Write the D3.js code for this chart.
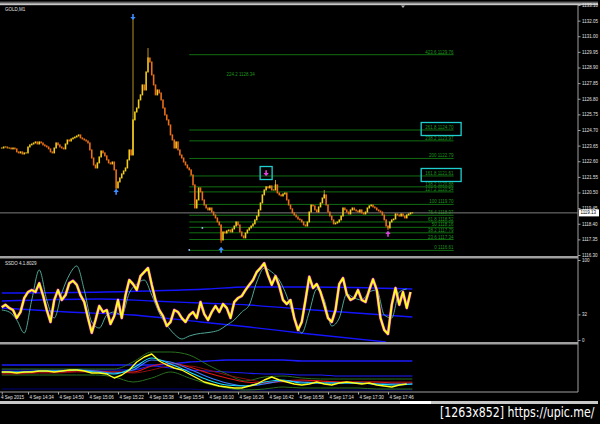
<!DOCTYPE html>
<html><head><meta charset="utf-8">
<script src="https://cdn.jsdelivr.net/npm/d3@7"></script>
<style>html,body{margin:0;padding:0;background:#000;overflow:hidden}svg{display:block}</style>
</head><body><svg id="c" width="600" height="424"></svg>
<script>
// ---------------- DATA ----------------
const symbolLabel = "GOLD,M1";
const oscLabel = "SSDO 4.1.8029";
const watermark = "[1263x852] https://upic.me/";
const startTime = "14:20";            // time of first bar (M1)
const closes = [
 1123.49,1123.56,1123.56,1123.49,1123.49,1123.43,1123.49,1123.43,1123.23,1123.16,
 1123.23,1123.09,1123.16,1123.16,1123.56,1123.70,1123.76,1123.83,1123.90,1123.76,
 1123.90,1123.83,1123.70,1123.63,1123.56,1123.43,1123.23,1123.16,1123.49,1123.83,
 1123.70,1123.56,1123.49,1123.43,1123.76,1124.03,1123.96,1124.10,1124.17,1124.23,
 1124.30,1124.37,1124.17,1124.10,1124.03,1123.96,1123.83,1123.36,1122.82,1122.35,
 1122.15,1122.49,1122.89,1123.29,1123.16,1122.96,1122.69,1122.49,1122.42,1122.55,
 1122.02,1120.81,1121.21,1121.48,1121.75,1121.95,1122.15,1122.69,1123.36,1123.02,
 1125.38,1125.91,1126.18,1126.72,1127.06,1127.73,1127.39,1128.60,1129.54,1129.27,
 1128.40,1127.73,1127.06,1127.39,1127.19,1126.72,1126.18,1125.71,1125.38,1125.04,
 1124.37,1124.03,1123.49,1123.90,1123.36,1123.02,1122.82,1122.55,1122.35,1122.15,
 1122.02,1121.68,1121.01,1119.46,1120.00,1120.81,1120.54,1120.00,1119.66,1119.46,
 1119.33,1119.46,1119.19,1118.99,1118.79,1118.52,1118.32,1117.31,1117.85,1117.78,
 1117.92,1117.98,1117.85,1118.05,1118.25,1118.52,1118.32,1117.85,1117.58,1117.45,
 1117.78,1117.98,1118.12,1118.25,1118.39,1118.66,1118.92,1119.33,1119.80,1120.34,
 1120.67,1120.88,1120.81,1120.94,1120.67,1120.67,1121.01,1120.47,1120.34,1120.27,
 1120.40,1120.47,1120.00,1119.66,1119.40,1119.13,1118.99,1118.86,1118.72,1118.66,
 1118.52,1118.32,1118.25,1118.52,1119.19,1119.66,1119.60,1119.33,1119.19,1119.53,
 1119.80,1120.13,1120.34,1119.66,1119.19,1118.92,1118.66,1118.39,1118.45,1118.52,
 1118.66,1118.92,1119.46,1119.33,1119.19,1119.06,1119.33,1119.46,1119.33,1119.26,
 1119.19,1119.33,1119.13,1119.06,1119.19,1119.46,1119.60,1119.66,1119.53,1119.46,
 1119.33,1119.26,1119.19,1118.99,1118.66,1118.25,1118.12,1118.52,1118.66,1118.72,
 1119.06,1118.99,1118.92,1119.06,1118.92,1118.79,1118.99,1119.06,1119.13,1119.13
];
// notable wicks: [bar, high, low]
const wicks = [[61,1120.81,1120.67],[70,1132.23,1123.02],[78,1130.21,1129.54],[117,1118.32,1117.11],[146,1121.34,1120.94],[172,1120.67,1120.13],[206,1118.25,1117.98]];
// signal arrows
const arrowBars   = [61, 70, 117, 141, 206];
const arrowPrices = [1120.54, 1132.30, 1116.64, 1121.81, 1117.71];
const arrowDirs   = ["up","down","up","down","up"];
const arrowKinds  = ["buy","buy","buy","sell","sell"];
const boxedArrow  = 141;
const dotBars = [100, 107], dotPrices = [1116.64, 1118.12];
// fibonacci object
const fibStartBar = 100, fibEndBar = 241;
const fibLevels = [0,23.6,38.2,50,61.8,76.4,100,127.2,138.2,161.8,200,238.2,261.8,423.6];
const fibPrices = [1116.61,1117.34,1117.79,1118.16,1118.52,1118.97,1119.70,1120.54,1120.88,1121.61,1122.79,1123.97,1124.70,1129.76];
const fibBoxed  = [161.8, 261.8];
const extraLabel = {bar:135, price:1128.34, text:"224.2 1128.34"};
const shiftBar = 214;
// axes
const priceTicks = [1133.10,1132.05,1131.00,1129.95,1128.90,1127.85,1126.80,1125.75,1124.70,1123.65,1122.60,1121.55,1120.50,1119.45,1118.40,1117.35,1116.30];
const timeTicks  = ["14:20","14:34","14:50","15:06","15:22","15:38","15:54","16:10","16:26","16:42","16:58","17:14","17:30","17:46"];
const timeLabels = ["4 Sep 2015","4 Sep 14:34","4 Sep 14:50","4 Sep 15:06","4 Sep 15:22","4 Sep 15:38","4 Sep 15:54","4 Sep 16:10","4 Sep 16:26","4 Sep 16:42","4 Sep 16:58","4 Sep 17:14","4 Sep 17:30","4 Sep 17:46"];
const oscTicks = [100, 32, 0];
// oscillator window (every 2 bars)
const stochMain = [41,44,40,37.5,27.5,35,52.5,60,62.5,60, 71,56,37.5,22.5,50,62.5,50,56,71,74,
 69,56,47.5,27.5,9,25,42.5,35,37.5,20, 30,50,27.5,56,75,70,62.5,80,85,90,
 69,50,37.5,30,17.5,22.5,37.5,35,27.5,22.5, 31,35,27.5,47.5,32.5,25,35,42.5,35,45,
 40,27.5,47.5,52.5,55,62.5,69,75,85,90, 96,81,69,80,67.5,50,45,50,27.5,12.5,
 22.5,50,79,65,70,60,44,27.5,22.5,37.5, 70,77.5,57.5,50,52.5,62.5,50,47.5,62.5,76,
 62.5,27.5,12.5,7.5,44,65,44,60,40,60];
// signal (every 4 bars)
const stochSignal = [37.5,35,25,8.75,50,87.5,50,27.5,58.75,81.25, 92.5,62.5,22.5,15,31.25,35,31.25,58.75,70,75,
 56.25,33.75,18.75,7.5,1.25,5,7.5,8.75,10,12.5, 18.75,25,35,43.75,72.5,90,85,75,55,27.5,
 8.75,35,63.75,50,17.5,27.5,57.5,52.5,50,60, 62.5,31.25,27.5,60,63.75];
const bandUpperBars = [0,55,110,130,165,219], bandUpper = [58.75,60,63.75,66.25,66.25,63.75];
const bandMidBars   = [0,52,80,106,132,159,219], bandMid = [48.75,51.25,48.75,46.25,43.75,38.75,28.75];
const bandLowBars   = [0,35,70,106,132,159,205], bandLow = [40,35,31.25,22.5,16.25,8.75,-2.5];
// lower window (every 10 bars + last)
const subBars = [0,10,20,30,40,50,60,70,80,90,100,110,120,130,140,150,160,170,180,190,200,210,219];
const subCyan   = [20,20,21,21,22,20,18,24,34,28,20,12,7,6,10,12,9,9,9,9,8,7,8];
const subSteel  = [20,20,21,21,22,21,19,22,32,30,23,15,9,6,8,11,10,9,9,9,8,8,8];
const subRed    = [19,19,20,20,21,21,20,20,26,29,25,19,14,10,9,11,12,11,10,10,10,9,9];
const subMaroon = [18,18,19,19,20,20,20,19,22,26,26,22,17,13,10,10,11,11,10,10,10,10,10];
const subGreenHi= [23,23,23,23,23,23,23,30,40,40,37,27,18,11,15,16,14,13,13,13,13,13,13];
const subGreenLo= [17,17,17,17,17,17,15,10,14,20,14,8,4,2,3,5,4,4,4,4,3,3,3];
const subBlue1  = [27,27,27,27,27,27,27,27,27,28,30,31,32,32,32,32,31,31,31,31,31,31,31];
const subBlue2  = [22,22,22,22,22,22,22,22,26,24,22,21,20,19,18,18,17,17,16,16,16,16,16];
const subNavy   = [3,3,3,3,3,3,3,3,3,3,3,2,2,2,2,2,2,2,2,2,2,2,2];
// yellow fast line (every 4 bars)
const subYellow = [20,20,19,20,20,21,21,20,21,22, 22,21,19,19,18,14,17,22,30,35,
 38,31,27,24,22,18,14,10,8,6, 5,4,4,6,8,12,15,12,10,8, 7,8,10,8,7,9,10,9,8,9, 7,6,5,7,8];

// ---------------- SCALES ----------------
const svg = d3.select("#c");
const AX = 578;
const FONT = "Liberation Sans, Arial, sans-serif";
const minuteOf = s => +s.split(":")[0]*60 + +s.split(":")[1];
const t0 = minuteOf(startTime);
const x = d3.scaleLinear().domain([0,220]).range([1.75, 414.25]);
const yP = d3.scaleLinear().domain([1116.30,1133.10]).range([255,5]);
const yS = d3.scaleLinear().domain([0,100]).range([340,260]);
const yL = d3.scaleLinear().domain([0,47]).range([392,345]);

svg.append("rect").attr("width",600).attr("height",424).attr("fill","#000");
const defs = svg.append("defs");
[["cMain",0,5,AX,251],["cOsc",0,258.5,AX,83.5],["cLow",0,344.5,AX,47.5]].forEach(([id,x0,y0,w,h])=>{
  defs.append("clipPath").attr("id",id).append("rect").attr("x",x0).attr("y",y0).attr("width",w).attr("height",h);
});

// ---------------- FRAME ----------------
svg.append("rect").attr("x",0).attr("y",1.7).attr("width",598).attr("height",1).attr("fill","#8a8a8a");
svg.append("rect").attr("x",0).attr("y",3.2).attr("width",598).attr("height",2).attr("fill","#c8c8c8");
svg.append("rect").attr("x",0).attr("y",256).attr("width",AX).attr("height",2.5).attr("fill","#a0a0a0");
svg.append("rect").attr("x",0).attr("y",342).attr("width",AX).attr("height",2.5).attr("fill","#a0a0a0");
svg.append("line").attr("x1",0).attr("x2",AX).attr("y1",392).attr("y2",392).attr("stroke","#a0a0a0").attr("stroke-width",1);
svg.append("line").attr("x1",AX).attr("x2",AX).attr("y1",5).attr("y2",392).attr("stroke","#a0a0a0").attr("stroke-width",1);
svg.append("rect").attr("x",0).attr("y",401).attr("width",598).attr("height",3).attr("fill","#c8c8c8");
svg.append("rect").attr("x",400).attr("y",401).attr("width",31).attr("height",3).attr("fill","#ffffff");
// chart-shift marker
svg.append("path").attr("d",`M${x(shiftBar)-2},5.5 L${x(shiftBar)+2},5.5 L${x(shiftBar)},8 Z`).attr("fill","#b0b0b0");

// ---------------- MAIN WINDOW ----------------
const gM = svg.append("g").attr("clip-path","url(#cMain)");
fibLevels.forEach((lv,k)=>{
  gM.append("line").attr("x1",x(fibStartBar)).attr("x2",x(fibEndBar))
    .attr("y1",yP(fibPrices[k])).attr("y2",yP(fibPrices[k]))
    .attr("stroke","#137a13").attr("stroke-width",0.9);
});
const last = closes[closes.length-1];
gM.append("line").attr("x1",0).attr("x2",AX).attr("y1",yP(last)).attr("y2",yP(last)).attr("stroke","#8c8c8c").attr("stroke-width",0.9);

const bars = closes.map((c,i)=>({i,c,o:i?closes[i-1]:c}));
const BULL="#f2cc1e", BEAR="#ec6e18";
gM.selectAll("line.wick").data(wicks).join("line").attr("class","wick")
  .attr("x1",d=>x(d[0])).attr("x2",d=>x(d[0])).attr("y1",d=>yP(d[1])).attr("y2",d=>yP(d[2]))
  .attr("stroke",d=>{const b=bars[d[0]];return b.c>=b.o?"#c9a020":BEAR;}).attr("stroke-width",0.9);
gM.selectAll("rect.bar").data(bars).join("rect").attr("class","bar")
  .attr("x",d=>x(d.i)-0.8).attr("width",1.6)
  .attr("y",d=>yP(Math.max(d.o,d.c))-0.5)
  .attr("height",d=>Math.abs(yP(d.o)-yP(d.c))+1)
  .attr("fill",d=>d.c>=d.o?BULL:BEAR);

function arrowPath(cx,cy,dir){const s=dir==="up"?1:-1;
  return `M${cx},${cy-3.2*s} L${cx+2.7},${cy} L${cx+0.8},${cy} L${cx+0.8},${cy+2.8*s} L${cx-0.8},${cy+2.8*s} L${cx-0.8},${cy} L${cx-2.7},${cy} Z`;}
arrowBars.forEach((b,k)=>{
  gM.append("path").attr("d",arrowPath(x(b),yP(arrowPrices[k]),arrowDirs[k]))
    .attr("fill",arrowKinds[k]==="buy"?"#3a8eff":"#e23ee2");
  if(b===boxedArrow){
    gM.append("rect").attr("x",x(b)-6).attr("y",yP(arrowPrices[k])-6.5).attr("width",12).attr("height",13)
      .attr("fill","none").attr("stroke","#1fcfcf").attr("stroke-width",1.3);
  }
});
dotBars.forEach((b,k)=>gM.append("circle").attr("cx",x(b)).attr("cy",yP(dotPrices[k])).attr("r",0.9).attr("fill","#a8c8ff"));

fibLevels.forEach((lv,k)=>{
  const t = gM.append("text").attr("x",x(fibEndBar)).attr("y",yP(fibPrices[k])-1)
    .attr("text-anchor","end").attr("font-family",FONT).attr("font-size",4.5).attr("fill","#1c951c")
    .text(`${lv} ${fibPrices[k].toFixed(2)}`);
  if(fibBoxed.includes(lv)){
    const bb = t.node().getBBox();
    gM.append("rect").attr("x",bb.x-4).attr("y",bb.y-2.5).attr("width",bb.width+11).attr("height",bb.height+8)
      .attr("fill","none").attr("stroke","#1fcfcf").attr("stroke-width",1.3);
  }
});
gM.append("text").attr("x",x(extraLabel.bar)).attr("y",yP(extraLabel.price)).attr("text-anchor","end")
  .attr("font-family",FONT).attr("font-size",4.5).attr("fill","#1c951c").text(extraLabel.text);

svg.append("text").attr("x",5).attr("y",11).attr("font-family",FONT).attr("font-size",4.5).attr("fill","#e0e0e0").text(symbolLabel);

const pAx = svg.append("g").attr("transform",`translate(${AX},0)`)
  .call(d3.axisRight(yP).tickValues(priceTicks).tickFormat(d3.format(".2f")).tickSize(2.5).tickPadding(1.5));
pAx.select(".domain").remove();
pAx.selectAll("line").attr("stroke","#a0a0a0");
pAx.selectAll("text").attr("font-family",FONT).attr("font-size",4.5).attr("fill","#e0e0e0");
svg.append("rect").attr("x",AX+1).attr("y",yP(last)-3.5).attr("width",20).attr("height",7).attr("fill","#ffffff");
svg.append("text").attr("x",AX+2.5).attr("y",yP(last)+1.6).attr("font-family",FONT).attr("font-size",4.5).attr("fill","#000").text(last.toFixed(2));

// ---------------- OSCILLATOR WINDOW ----------------
const gO = svg.append("g").attr("clip-path","url(#cOsc)");
const band = (bs,vs)=>d3.line().x((d,k)=>x(bs[k])).y(d=>yS(d)).curve(d3.curveMonotoneX)(vs);
[[bandUpperBars,bandUpper],[bandMidBars,bandMid],[bandLowBars,bandLow]].forEach(([bs,vs])=>{
  gO.append("path").attr("d",band(bs,vs)).attr("fill","none").attr("stroke","#1414ff").attr("stroke-width",1.3);
});
const sigLine = d3.line().x((d,k)=>x(k*4)).y(d=>yS(d)).curve(d3.curveMonotoneX);
gO.append("path").attr("d",sigLine(stochSignal)).attr("fill","none").attr("stroke","#56b8a6").attr("stroke-width",0.9);
const mainLine = d3.line().x((d,k)=>x(k*2)).y(d=>yS(d));
gO.append("path").attr("d",mainLine(stochMain)).attr("fill","none").attr("stroke","#e632e6").attr("stroke-width",2.9).attr("stroke-linejoin","round");
gO.append("path").attr("d",mainLine(stochMain)).attr("fill","none").attr("stroke","#ffff1a").attr("stroke-width",1.9).attr("stroke-linejoin","round");
svg.append("text").attr("x",5).attr("y",265).attr("font-family",FONT).attr("font-size",4.5).attr("fill","#e0e0e0").text(oscLabel);
const oAx = svg.append("g").attr("transform",`translate(${AX},0)`)
  .call(d3.axisRight(yS).tickValues(oscTicks).tickSize(2.5).tickPadding(1.5));
oAx.select(".domain").remove();
oAx.selectAll("line").attr("stroke","#a0a0a0");
oAx.selectAll("text").attr("font-family",FONT).attr("font-size",4.5).attr("fill","#e0e0e0");

// ---------------- LOWER WINDOW ----------------
const gL = svg.append("g").attr("clip-path","url(#cLow)");
const lowLine = d3.line().x((d,k)=>x(subBars[k])).y(d=>yL(d)).curve(d3.curveMonotoneX);
[[subNavy,"#00007a",1],[subBlue1,"#1c1cff",1.3],[subBlue2,"#1c1cff",1.1],[subGreenHi,"#2a6e20",1],[subGreenLo,"#2a6e20",1],
 [subMaroon,"#8c1010",1],[subRed,"#e01818",1.1],[subSteel,"#3c7cff",1.1],[subCyan,"#19e0ff",1.1]].forEach(([vs,col,w])=>{
  gL.append("path").attr("d",lowLine(vs)).attr("fill","none").attr("stroke",col).attr("stroke-width",w);
});
const yelLine = d3.line().x((d,k)=>x(k*4)).y(d=>yL(d));
gL.append("path").attr("d",yelLine(subYellow)).attr("fill","none").attr("stroke","#ffff1a").attr("stroke-width",1.4).attr("stroke-linejoin","round");

// ---------------- TIME AXIS ----------------
const tAx = svg.append("g").attr("transform","translate(0,392)")
  .call(d3.axisBottom(x).tickValues(timeTicks.map(t=>minuteOf(t)-t0)).tickFormat((d,k)=>timeLabels[k]).tickSize(2.5).tickPadding(1.5));
tAx.select(".domain").remove();
tAx.selectAll("line").attr("stroke","#a0a0a0");
tAx.selectAll("text").attr("text-anchor","start").attr("dx",(d,k)=>k===0?-1.2:1).attr("font-family",FONT).attr("font-size",4.5).attr("fill","#e0e0e0");

// watermark
svg.append("text").attr("transform","translate(440,417) scale(1,1.22)")
  .attr("font-family","DejaVu Sans, sans-serif").attr("font-size",11).attr("fill","#ffffff").text(watermark);
</script></body></html>
